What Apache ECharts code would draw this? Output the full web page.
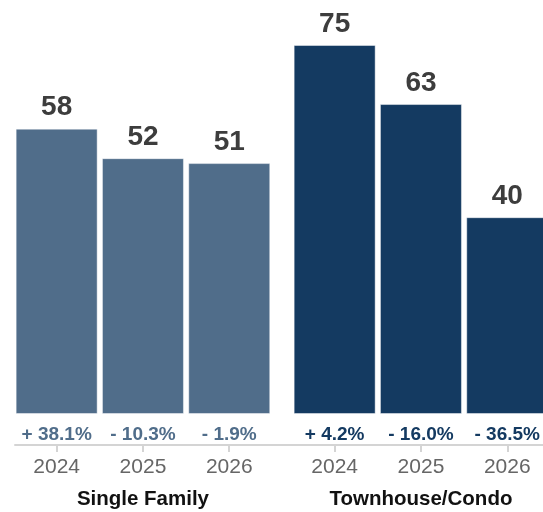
<!DOCTYPE html>
<html><head><meta charset="utf-8">
<script src="https://cdn.jsdelivr.net/npm/echarts@6/dist/echarts.min.js"></script>
<style>html,body{margin:0;padding:0;background:#fff}#c{width:543px;height:512px}</style>
</head><body><div id="c"></div>
<script>
const groups = ['Single Family', 'Townhouse/Condo'];
const years = ['2024', '2025', '2026'];
const singleFamily = [58, 52, 51];
const townhouse = [75, 63, 40];
const sfChange = ['+ 38.1%', '- 10.3%', '- 1.9%'];
const thChange = ['+ 4.2%', '- 16.0%', '- 36.5%'];

const FONT = '"Liberation Sans", Arial, Helvetica, sans-serif';
const SF_COLOR = '#506d8a';
const TH_COLOR = '#143a61';
const TOP = 45, BOTTOM = 98, CAT_W = 86.3;

const chart = echarts.init(document.getElementById('c'));
function pctAxis(gridIndex, data, color) {
  return {
    type: 'category', gridIndex, data, position: 'bottom', offset: 0,
    axisLine: {show: false, onZero: false}, axisTick: {show: false},
    axisLabel: {interval: 0, hideOverlap: false, color, fontFamily: FONT, fontWeight: 'bold', fontSize: 19, margin: 11}
  };
}
function yearAxis(gridIndex, name) {
  return {
    type: 'category', gridIndex, data: years, position: 'bottom', offset: 31,
    axisLine: {show: false, onZero: false},
    axisTick: {show: true, interval: 0, alignWithLabel: true, length: 7, lineStyle: {color: '#d4d4d4', width: 2}},
    axisLabel: {interval: 0, color: '#666666', fontFamily: FONT, fontSize: 21, margin: 12},
    name, nameLocation: 'middle', nameGap: 44,
    nameTextStyle: {color: '#111111', fontFamily: FONT, fontWeight: 'bold', fontSize: 20.5}
  };
}
function barSeries(axisIdx, gridIdx, data, color) {
  return {
    type: 'bar', xAxisIndex: axisIdx, yAxisIndex: gridIdx, data, barWidth: 82,
    itemStyle: {color, borderColor: 'rgba(255,255,255,0.45)', borderWidth: 1},
    label: {show: true, position: 'top', distance: 7, color: '#3d3d3d',
            fontFamily: FONT, fontWeight: 'bold', fontSize: 28},
    silent: true
  };
}
chart.setOption({
  animation: false,
  grid: [
    {left: 13.5, width: 3 * CAT_W, top: TOP, bottom: BOTTOM, outerBoundsMode: 'none', containLabel: false},
    {left: 291.5, width: 3 * CAT_W, top: TOP, bottom: BOTTOM, outerBoundsMode: 'none', containLabel: false},
    {left: 15, right: 0, top: TOP, bottom: BOTTOM, outerBoundsMode: 'none', containLabel: false}
  ],
  xAxis: [
    pctAxis(0, sfChange, SF_COLOR),
    yearAxis(0, groups[0]),
    pctAxis(1, thChange, TH_COLOR),
    yearAxis(1, groups[1]),
    {type: 'category', gridIndex: 2, data: [''], position: 'bottom', offset: 31,
     axisLine: {show: true, onZero: false, lineStyle: {color: '#d4d4d4', width: 2}},
     axisTick: {show: false}, axisLabel: {show: false}}
  ],
  yAxis: [0, 1, 2].map(i => ({type: 'value', gridIndex: i, min: 0, max: 75, show: false, splitLine: {show: false}})),
  series: [
    barSeries(0, 0, singleFamily, SF_COLOR),
    barSeries(2, 1, townhouse, TH_COLOR)
  ]
});
</script></body></html>
